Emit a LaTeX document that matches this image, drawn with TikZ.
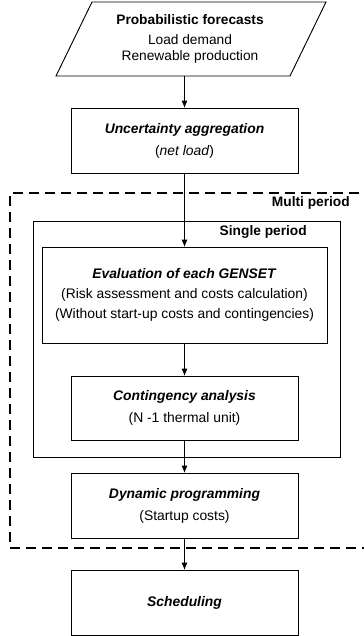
\documentclass[tikz,border=0pt]{standalone}
\usepackage{fontspec}
\setmainfont{Liberation Sans}
\usetikzlibrary{arrows.meta}
\begin{document}
\begin{tikzpicture}[x=0.75pt,y=-0.75pt,
  box/.style={draw,line width=0.7pt,inner sep=0pt,outer sep=0pt,align=center,
    font=\fontsize{10.4}{15}\selectfont},
  conn/.style={line width=0.7pt,-{Latex[length=5.5pt,width=4.5pt]}},
  lbl/.style={font=\bfseries\fontsize{10.3}{12}\selectfont,inner sep=0pt,anchor=east}]
\useasboundingbox (0,0) rectangle (364,636);
\clip (0,0) rectangle (364,636);
% multi period (dashed, open to the right)
\draw[line width=1.1pt,dash pattern=on 7.5pt off 4.5pt] (375,193) -- (10,193) -- (10,548) -- (375,548);
\node[lbl] (mp) at (350,203) {Multi period};
% single period
\node[box,minimum width=230.25pt,minimum height=177pt] (sp) at (186.5,339) {};
\node[lbl] (spl) at (307,232) {Single period};
% forecasts parallelogram
\draw[line width=0.7pt] (92,2) -- (326,2) -- (290,76) -- (56,76) -- cycle;
\node[align=center,inner sep=0pt,outer sep=0pt,minimum height=55.5pt,font=\fontsize{10.3}{12}\selectfont] (fc) at (190,39)
  {\textbf{Probabilistic forecasts}\\[3pt]Load demand\\Renewable production};
% boxes
\node[box,minimum width=170.25pt,minimum height=48.75pt] (ua) at (184.5,140.5)
  {\textbf{\textit{Uncertainty aggregation}}\\[1.5pt](\textit{net load})};
\node[box,minimum width=213.75pt,minimum height=72pt] (ev) at (184.5,295)
  {\textbf{\textit{Evaluation of each GENSET}}\\(Risk assessment and costs calculation)\\(Without start-up costs and contingencies)};
\node[box,minimum width=170.25pt,minimum height=48pt] (ca) at (184.5,408)
  {\textbf{\textit{Contingency analysis}}\\[1.5pt](N -1 thermal unit)};
\node[box,minimum width=170.25pt,minimum height=48.75pt] (dp) at (184.5,505.5)
  {\textbf{\textit{Dynamic programming}}\\[1.5pt](Startup costs)};
\node[box,minimum width=170.25pt,minimum height=48.75pt] (sc) at (184.5,602.5)
  {\textbf{\textit{Scheduling}}};
% connectors
\draw[conn] (fc.south -| ua.north) -- (ua.north);
\draw[conn] (ua.south) -- (ev.north);
\draw[conn] (ev.south) -- (ca.north);
\draw[conn] (ca.south) -- (dp.north);
\draw[conn] (dp.south) -- (sc.north);
\end{tikzpicture}
\end{document}
